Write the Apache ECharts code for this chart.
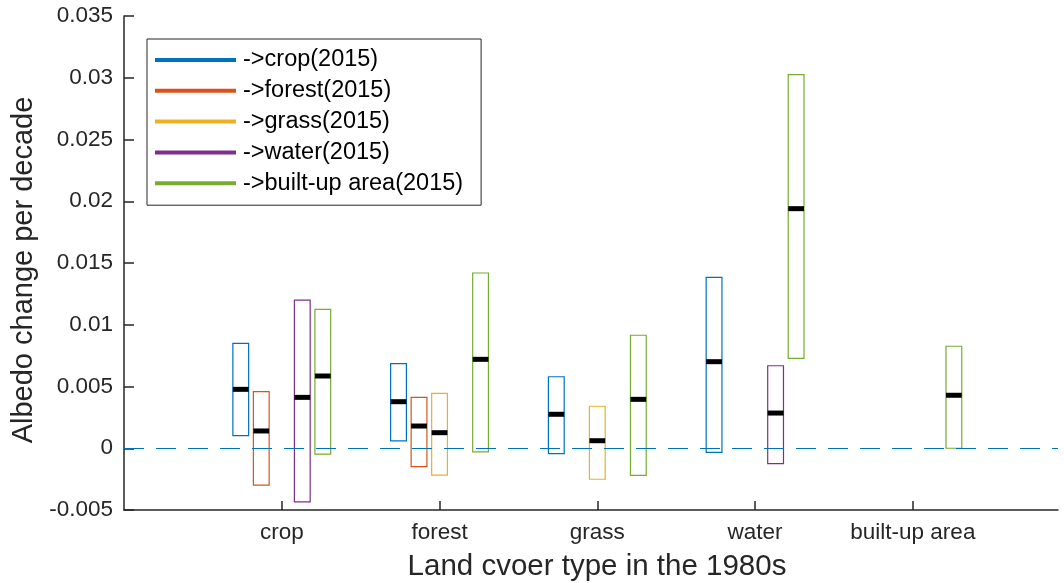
<!DOCTYPE html>
<html>
<head>
<meta charset="utf-8">
<script src="https://cdn.jsdelivr.net/npm/echarts@6/dist/echarts.min.js"></script>
<style>
  html, body { margin: 0; padding: 0; background: #fff; }
  #chart { width: 1064px; height: 583px; }
</style>
</head>
<body>
<div id="chart"></div>
<script>
// Land cover types in the 1980s (x axis groups, placed at 1..5)
const categories = ['crop', 'forest', 'grass', 'water', 'built-up area'];
const yTicks = [-0.005, 0, 0.005, 0.01, 0.015, 0.02, 0.025, 0.03, 0.035];

// Albedo change per decade for each transition target (2015); null = no transition
const toCropLow    = [0.00102, 0.00059, -0.00044, -0.00033, null];
const toCropHigh   = [0.0085, 0.00685, 0.00579, 0.01384, null];
const toCropMed    = [0.00477, 0.00377, 0.00275, 0.00701, null];

const toForestLow  = [-0.00298, -0.00149, null, null, null];
const toForestHigh = [0.00458, 0.00412, null, null, null];
const toForestMed  = [0.0014, 0.0018, null, null, null];

const toGrassLow   = [null, -0.00217, -0.00251, null, null];
const toGrassHigh  = [null, 0.00445, 0.0034, null, null];
const toGrassMed   = [null, 0.00126, 0.00061, null, null];

const toWaterLow   = [-0.00435, null, null, -0.00125, null];
const toWaterHigh  = [0.012, null, null, 0.00668, null];
const toWaterMed   = [0.00412, null, null, 0.00285, null];

const toBuiltLow   = [-0.00047, -0.0003, -0.00219, 0.00728, 0.0];
const toBuiltHigh  = [0.01125, 0.01419, 0.00915, 0.03025, 0.00826];
const toBuiltMed   = [0.00585, 0.0072, 0.00396, 0.0194, 0.00429];

const seriesDefs = [
  { name: '->crop(2015)',          color: '#0072BD', low: toCropLow,   high: toCropHigh,   med: toCropMed },
  { name: '->forest(2015)',        color: '#D95319', low: toForestLow, high: toForestHigh, med: toForestMed },
  { name: '->grass(2015)',         color: '#EDB120', low: toGrassLow,  high: toGrassHigh,  med: toGrassMed },
  { name: '->water(2015)',         color: '#7E2F8E', low: toWaterLow,  high: toWaterHigh,  med: toWaterMed },
  { name: '->built-up area(2015)', color: '#77AC30', low: toBuiltLow,  high: toBuiltHigh,  med: toBuiltMed }
];

const groupStep = 0.13;   // spacing between boxes inside a group (x units)
const boxWidth = 0.1;     // box width (x units)
const FONT = '"Liberation Sans", Arial, Helvetica, sans-serif';
const INK = '#262626';

function makeSeries(def, k) {
  const data = [];
  categories.forEach((c, i) => {
    if (def.low[i] === null) return;
    data.push([i + 1, def.low[i], def.high[i], def.med[i]]);
  });
  const offset = (k - 2) * groupStep;
  return {
    name: def.name,
    type: 'custom',
    itemStyle: { color: def.color },
    data: data,
    encode: { x: 0, y: [1, 2, 3] },
    renderItem: function (params, api) {
      const x = api.value(0) + offset;
      const lo = api.coord([x, api.value(1)]);
      const hi = api.coord([x, api.value(2)]);
      const md = api.coord([x, api.value(3)]);
      const w = api.size([boxWidth, 0])[0];
      return {
        type: 'group',
        children: [
          {
            type: 'rect',
            shape: { x: lo[0] - w / 2, y: hi[1], width: w, height: lo[1] - hi[1] },
            style: { fill: 'none', stroke: def.color, lineWidth: 1.2 }
          },
          {
            type: 'rect',
            shape: { x: md[0] - w / 2, y: md[1] - 2.5, width: w, height: 5 },
            style: { fill: '#000' }
          }
        ]
      };
    }
  };
}

const series = seriesDefs.map(makeSeries);
// dashed zero reference line
series[0].markLine = {
  silent: true,
  symbol: 'none',
  label: { show: false },
  lineStyle: { color: '#0072BD', type: [20, 12], width: 1.2 },
  data: [{ yAxis: 0 }]
};

const chart = echarts.init(document.getElementById('chart'), null, { renderer: 'canvas' });
chart.setOption({
  animation: false,
  backgroundColor: '#fff',
  grid: { left: 124, right: 6, top: 16, bottom: 73, containLabel: false, outerBoundsMode: 'none' },
  legend: {
    orient: 'vertical',
    left: 147,
    top: 39,
    icon: 'rect',
    itemWidth: 81,
    itemHeight: 4,
    itemGap: 6.8,
    padding: [9, 18, 10, 8],
    borderColor: INK,
    borderWidth: 1,
    backgroundColor: '#fff',
    textStyle: { fontFamily: FONT, fontSize: 23.5, color: '#000', lineHeight: 22, padding: [0, 0, 0, 2] },
    data: seriesDefs.map(d => ({ name: d.name, itemStyle: { color: d.color } }))
  },
  xAxis: {
    type: 'value',
    min: 0,
    max: 5.92,
    interval: 1,
    name: 'Land cvoer type in the 1980s',
    nameLocation: 'middle',
    nameGap: 42,
    nameTextStyle: { fontFamily: FONT, fontSize: 29.5, color: INK, padding: [0, 0, 0, 12] },
    axisLine: { show: true, onZero: false, lineStyle: { color: INK, width: 1.5 } },
    axisTick: {
      show: true, inside: true, length: 9, lineStyle: { color: INK, width: 1.5 },
      customValues: [1, 2, 3, 4, 5]
    },
    axisLabel: {
      fontFamily: FONT, fontSize: 22.5, color: INK, margin: 11,
      customValues: [1, 2, 3, 4, 5],
      formatter: v => categories[Math.round(v) - 1] || ''
    },
    splitLine: { show: false }
  },
  yAxis: {
    type: 'value',
    min: -0.005,
    max: 0.035,
    interval: 0.005,
    name: 'Albedo change per decade',
    nameLocation: 'middle',
    nameGap: 85,
    nameTextStyle: { fontFamily: FONT, fontSize: 29, color: INK, padding: [0, 14, 0, 0] },
    axisLine: { show: true, onZero: false, lineStyle: { color: INK, width: 1.5 } },
    axisTick: { show: true, inside: true, length: 10, lineStyle: { color: INK, width: 1.5 } },
    axisLabel: {
      fontFamily: FONT, fontSize: 22.5, color: INK, margin: 11,
      formatter: v => {
        const t = yTicks.find(tv => Math.abs(tv - v) < 1e-9);
        return t === undefined ? '' : String(parseFloat(t.toFixed(3)));
      }
    },
    splitLine: { show: false }
  },
  series: series
});
</script>
</body>
</html>
